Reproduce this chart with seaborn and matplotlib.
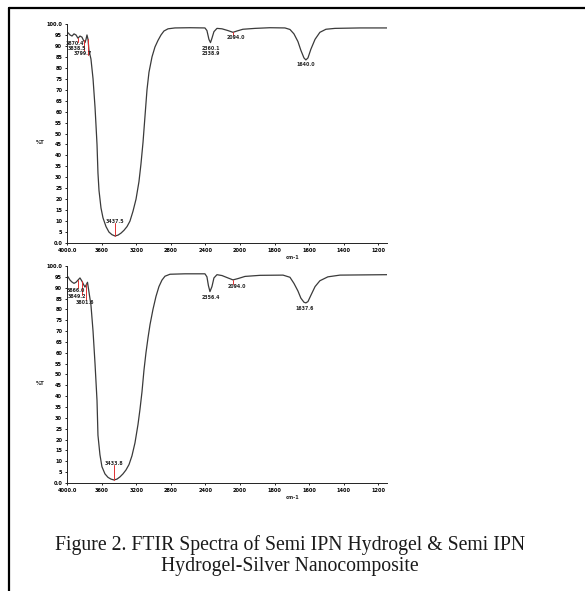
import numpy as np
import pandas as pd
import matplotlib
matplotlib.use("Agg")
import matplotlib.pyplot as plt
from matplotlib.lines import Line2D
import seaborn as sns

# ---------------- data ----------------
wn_hydrogel = [3988, 3965, 3942, 3919, 3896, 3873, 3850, 3827, 3809, 3792, 3780, 3769, 3757, 3746,
               3723, 3699, 3676, 3665, 3653, 3642, 3630, 3607, 3584, 3549, 3515, 3480, 3445, 3410,
               3376, 3341, 3306, 3272, 3237, 3202, 3168, 3145, 3121, 3098, 3075, 3052, 3017, 2983,
               2948, 2913, 2879, 2832, 2752, 2578, 2405, 2382, 2359, 2341, 2324, 2301, 2266, 2208,
               2139, 2081, 2035, 1983, 1913, 1827, 1740, 1711, 1688, 1665, 1648, 1630, 1619, 1607,
               1590, 1566, 1538, 1503, 1451, 1306, 1150]
t_hydrogel = [96.0, 95.0, 94.5, 95.5, 95.0, 93.5, 94.5, 94.0, 92.5, 91.5, 93.0, 95.0, 93.0, 88.0,
              84.0, 75.0, 62.0, 54.0, 45.0, 32.0, 24.0, 16.0, 11.5, 7.5, 5.0, 3.8, 3.2, 3.6,
              4.5, 5.8, 7.5, 10.0, 14.5, 20.0, 28.0, 36.0, 46.0, 58.0, 70.0, 78.0, 85.0, 89.5,
              92.5, 95.0, 96.8, 97.8, 98.2, 98.3, 98.2, 97.0, 93.0, 91.5, 93.5, 96.5, 98.0, 97.8,
              97.0, 96.2, 96.8, 97.6, 98.0, 98.3, 98.2, 97.5, 95.5, 92.0, 88.0, 84.5, 83.6, 84.5,
              88.5, 93.0, 96.2, 97.6, 98.0, 98.2, 98.2]

wn_composite = [3988, 3965, 3942, 3919, 3896, 3873, 3850, 3827, 3809, 3792, 3775, 3763, 3746, 3723,
                3699, 3676, 3653, 3642, 3619, 3596, 3561, 3526, 3492, 3457, 3422, 3388, 3353, 3318,
                3283, 3249, 3214, 3179, 3156, 3133, 3110, 3087, 3063, 3040, 3006, 2971, 2937, 2902,
                2867, 2809, 2636, 2405, 2382, 2365, 2347, 2324, 2301, 2266, 2208, 2139, 2081, 2023,
                1971, 1884, 1751, 1711, 1688, 1665, 1648, 1630, 1619, 1607, 1590, 1566, 1538, 1492,
                1422, 1150]
t_composite = [95.0, 93.5, 92.6, 92.0, 92.5, 93.5, 94.5, 93.0, 91.5, 90.3, 91.5, 92.5, 88.0, 82.0,
               70.0, 55.0, 38.0, 22.0, 13.0, 7.5, 4.2, 2.6, 1.8, 1.4, 1.8, 2.8, 4.2, 6.0,
               8.5, 12.5, 18.5, 27.0, 34.0, 42.0, 52.0, 60.0, 67.0, 73.0, 80.0, 86.0, 90.5, 93.5,
               95.3, 96.2, 96.4, 96.4, 95.0, 91.0, 88.2, 90.5, 94.5, 96.0, 95.6, 94.5, 93.6, 94.2,
               95.2, 95.7, 95.8, 94.8, 92.0, 88.5, 85.2, 83.3, 83.0, 83.6, 86.5, 90.5, 93.2, 95.0,
               95.8, 96.0]

# peak labels: text, label wavenumber, label %T, marker (wavenumber, %T from, %T to)
peaks_hydrogel_text = ["3870.4", "3838.5", "3799.7", "3437.5", "2360.1", "2338.9", "2094.0", "1640.0"]
peaks_hydrogel_wn = [3907, 3884, 3815, 3445, 2335, 2335, 2045, 1619]
peaks_hydrogel_lab = [91.0, 88.8, 86.6, 10.0, 88.6, 86.6, 94.0, 81.6]
peaks_hydrogel_mark = [(3873, 93.5, 91.8), (3809, 92.5, 87.5), (3757, 93.0, 86.0), (3445, 3.2, 9.0),
                       (None, 0, 0), (None, 0, 0), (2081, 96.2, 95.0), (None, 0, 0)]

peaks_composite_text = ["3866.0", "3849.2", "3801.6", "3433.8", "2356.4", "2094.0", "1637.6"]
peaks_composite_wn = [3896, 3884, 3792, 3457, 2335, 2035, 1625]
peaks_composite_lab = [88.8, 85.8, 83.4, 9.0, 85.6, 90.6, 80.6]
peaks_composite_mark = [(3873, 93.5, 89.8), (3827, 93.0, 86.5), (3775, 91.5, 84.5), (3457, 1.4, 8.2),
                        (None, 0, 0), (2081, 93.6, 91.8), (None, 0, 0)]

x_ticks = [4000, 3600, 3200, 2800, 2400, 2000, 1800, 1600, 1400, 1200]
x_ticklabels = ["4000.0", "3600", "3200", "2800", "2400", "2000", "1800", "1600", "1400", "1200"]
y_ticks = list(range(0, 101, 5))
y_ticklabels = ["0.0"] + [str(v) for v in range(5, 100, 5)] + ["100.0"]

caption_line1 = "Figure 2. FTIR Spectra of Semi IPN Hydrogel & Semi IPN"
caption_line2 = "Hydrogel-Silver Nanocomposite"

# ---------------- style ----------------
sns.set_style("ticks")
plt.rcParams["font.family"] = ["DejaVu Sans"]

def fwd(w):
    w = np.asarray(w, dtype=float)
    return np.where(w >= 2000, 5 + (w - 2000) / 400.0, (w - 1000) / 200.0)

def inv(p):
    p = np.asarray(p, dtype=float)
    return np.where(p >= 5, 2000 + (p - 5) * 400.0, 1000 + p * 200.0)

fig = plt.figure(figsize=(5.85, 5.91), dpi=100)
fig.patch.set_facecolor("white")

W, H = 585.0, 591.0
ax1 = fig.add_axes([67 / W, 1 - 243 / H, 320 / W, 219 / H])
ax2 = fig.add_axes([67 / W, 1 - 483 / H, 320 / W, 217 / H])

panels = [
    (ax1, wn_hydrogel, t_hydrogel, peaks_hydrogel_text, peaks_hydrogel_wn, peaks_hydrogel_lab, peaks_hydrogel_mark),
    (ax2, wn_composite, t_composite, peaks_composite_text, peaks_composite_wn, peaks_composite_lab, peaks_composite_mark),
]

for ax, wn, tt, ptxt, pwn, plab, pmark in panels:
    df = pd.DataFrame({"wn": wn, "T": tt})
    sns.lineplot(data=df, x="wn", y="T", ax=ax, sort=False, estimator=None,
                 color="#3a3a3a", linewidth=0.9)
    ax.set_xscale("function", functions=(fwd, inv))
    ax.set_xlim(4000, 1150)
    ax.set_ylim(0, 100)
    ax.set_xticks(x_ticks)
    ax.set_xticklabels(x_ticklabels)
    ax.set_yticks(y_ticks)
    ax.set_yticklabels(y_ticklabels)
    ax.minorticks_off()
    ax.tick_params(axis="both", labelsize=3.6, length=1.5, width=0.6, pad=2, colors="black")
    for lab in ax.get_xticklabels() + ax.get_yticklabels():
        lab.set_fontweight("bold")
    ax.set_xlabel("")
    ax.set_ylabel("")
    for s in ["top", "right"]:
        ax.spines[s].set_visible(False)
    for s in ["left", "bottom"]:
        ax.spines[s].set_linewidth(0.7)
        ax.spines[s].set_color("#222222")
    ax.set_facecolor("white")
    ax.text(-0.084, 0.46, "%T", transform=ax.transAxes, fontsize=3.8, fontweight="bold",
            ha="center", va="center")
    ax.text(0.706, -0.068, "cm-1", transform=ax.transAxes, fontsize=3.6, fontweight="bold",
            ha="center", va="center")
    for txt, lw_, lt, mk in zip(ptxt, pwn, plab, pmark):
        ax.text(lw_, lt, txt, fontsize=3.4, fontweight="bold", ha="center", va="center")
        if mk[0] is not None:
            ax.plot([mk[0], mk[0]], [mk[1], mk[2]], color="#e03030", linewidth=0.7)

serif = ["Liberation Serif", "DejaVu Serif"]
fig.text(290 / W, 1 - 550 / H, caption_line1, ha="center", va="baseline", fontsize=14.2,
         family=serif, color="#1a1a1a")
fig.text(290 / W, 1 - 571 / H, caption_line2, ha="center", va="baseline", fontsize=14.2,
         family=serif, color="#1a1a1a")

# page border (left and top rules of the scanned page)
fig.add_artist(Line2D([9 / W, 9 / W], [0, 1 - 8 / H], color="black", linewidth=1.6,
                      transform=fig.transFigure))
fig.add_artist(Line2D([9 / W, 1], [1 - 8 / H, 1 - 8 / H], color="black", linewidth=1.6,
                      transform=fig.transFigure))

fig.savefig("out.png", dpi=100, facecolor="white")
